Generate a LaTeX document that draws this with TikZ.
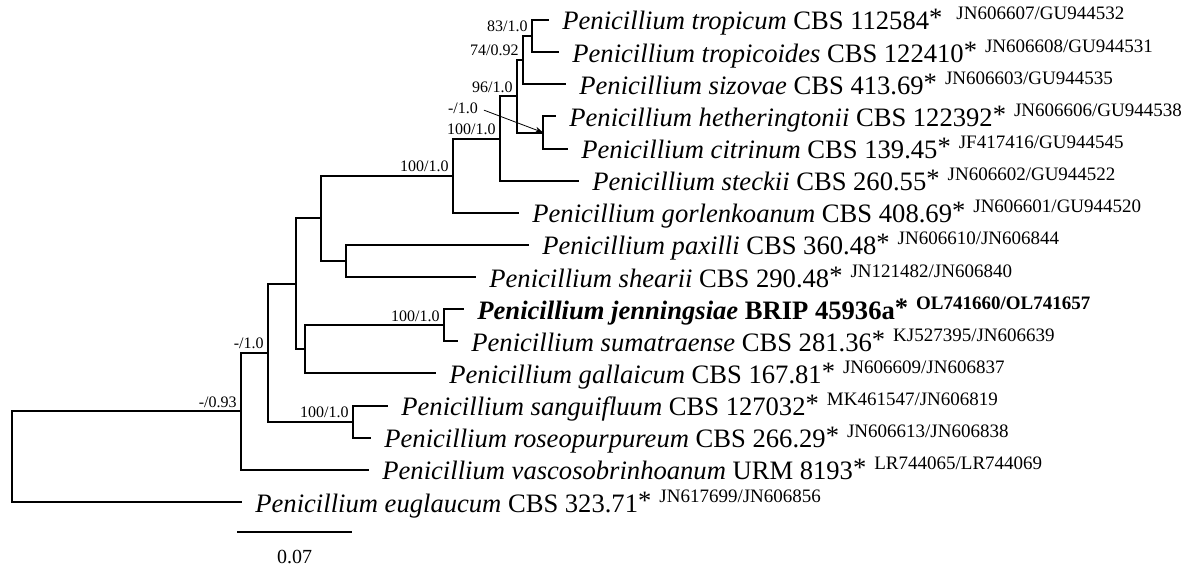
\documentclass[tikz,border=0pt]{standalone}
\usepackage{fontspec}
\setmainfont{Liberation Serif}
\usetikzlibrary{positioning, arrows.meta}
\newcommand{\tstar}{\raisebox{1.5pt}{*}}
\newcommand{\accno}[1]{\hspace{4pt}\raisebox{5pt}{\fontsize{9.5}{11}\selectfont #1}}

\begin{document}
\begin{tikzpicture}[
    x=0.5pt, y=-0.5pt,
    branch/.style={line width=1pt, line cap=rect},
    leaf/.style={anchor=base west, inner sep=0pt, xshift=7pt, yshift=-5pt, font=\fontsize{13.3}{16}\selectfont},
    supp/.style={anchor=base east, inner sep=0pt, xshift=-2pt, yshift=2pt, font=\fontsize{8}{9}\selectfont}]
    \useasboundingbox (0,0) rectangle (1203,567);
    % leaf tips
    \coordinate (t1)  at (548,20);
    \coordinate (t2)  at (558,52.1);
    \coordinate (t3)  at (565,84.3);
    \coordinate (t4)  at (555,116.4);
    \coordinate (t5)  at (567,148.5);
    \coordinate (t6)  at (578,180.7);
    \coordinate (t7)  at (518,212.8);
    \coordinate (t8)  at (528,244.9);
    \coordinate (t9)  at (475,277);
    \coordinate (t10) at (463,309.2);
    \coordinate (t11) at (457,341.3);
    \coordinate (t12) at (435,373.4);
    \coordinate (t13) at (387,405.6);
    \coordinate (t14) at (370,437.7);
    \coordinate (t15) at (368,469.8);
    \coordinate (t16) at (241,502);
    % internal nodes
    \coordinate (n83)  at (532,36);
    \coordinate (n74)  at (523,60);
    \coordinate (nM)   at (543,132.5);
    \coordinate (n96)  at (517,96);
    \coordinate (nU)   at (500,138.5);
    \coordinate (nL)   at (453,175.5);
    \coordinate (nPS)  at (346,261);
    \coordinate (nX)   at (321,218);
    \coordinate (nJ)   at (444,325.2);
    \coordinate (nG)   at (305,349.3);
    \coordinate (nA)   at (296,283.6);
    \coordinate (nS)   at (353,421.6);
    \coordinate (nB)   at (268,352.6);
    \coordinate (nC)   at (241,411.2);
    \coordinate (root) at (12,456.6);
    % branches
    \draw[branch] (n83) |- (t1);  \draw[branch] (n83) |- (t2);
    \draw[branch] (n74) |- (n83); \draw[branch] (n74) |- (t3);
    \draw[branch] (nM) |- (t4);   \draw[branch] (nM) |- (t5);
    \draw[branch] (n96) |- (n74); \draw[branch] (n96) |- (nM);
    \draw[branch] (nU) |- (n96);  \draw[branch] (nU) |- (t6);
    \draw[branch] (nL) |- (nU);   \draw[branch] (nL) |- (t7);
    \draw[branch] (nPS) |- (t8);  \draw[branch] (nPS) |- (t9);
    \draw[branch] (nX) |- (nL);   \draw[branch] (nX) |- (nPS);
    \draw[branch] (nJ) |- (t10);  \draw[branch] (nJ) |- (t11);
    \draw[branch] (nG) |- (nJ);   \draw[branch] (nG) |- (t12);
    \draw[branch] (nA) |- (nX);   \draw[branch] (nA) |- (nG);
    \draw[branch] (nS) |- (t13);  \draw[branch] (nS) |- (t14);
    \draw[branch] (nB) |- (nA);   \draw[branch] (nB) |- (nS);
    \draw[branch] (nC) |- (nB);   \draw[branch] (nC) |- (t15);
    \draw[branch] (root) |- (nC); \draw[branch] (root) |- (t16);
    % taxa
    \node[leaf] (l1)  at (t1)  {\textit{Penicillium tropicum} CBS 112584\tstar\accno{\hspace{3pt}JN606607/GU944532}};
    \node[leaf] (l2)  at (t2)  {\textit{Penicillium tropicoides} CBS 122410\tstar\accno{JN606608/GU944531}};
    \node[leaf] (l3)  at (t3)  {\textit{Penicillium sizovae} CBS 413.69\tstar\accno{JN606603/GU944535}};
    \node[leaf] (l4)  at (t4)  {\textit{Penicillium hetheringtonii} CBS 122392\tstar\accno{JN606606/GU944538}};
    \node[leaf] (l5)  at (t5)  {\textit{Penicillium citrinum} CBS 139.45\tstar\accno{JF417416/GU944545}};
    \node[leaf] (l6)  at (t6)  {\textit{Penicillium steckii} CBS 260.55\tstar\accno{JN606602/GU944522}};
    \node[leaf] (l7)  at (t7)  {\textit{Penicillium gorlenkoanum} CBS 408.69\tstar\accno{JN606601/GU944520}};
    \node[leaf] (l8)  at (t8)  {\textit{Penicillium paxilli} CBS 360.48\tstar\accno{JN606610/JN606844}};
    \node[leaf] (l9)  at (t9)  {\textit{Penicillium shearii} CBS 290.48\tstar\accno{JN121482/JN606840}};
    \node[leaf] (l10) at (t10) {\bfseries\textit{Penicillium jenningsiae} BRIP 45936a\tstar\accno{\bfseries OL741660/OL741657}};
    \node[leaf] (l11) at (t11) {\textit{Penicillium sumatraense} CBS 281.36\tstar\accno{KJ527395/JN606639}};
    \node[leaf] (l12) at (t12) {\textit{Penicillium gallaicum} CBS 167.81\tstar\accno{JN606609/JN606837}};
    \node[leaf] (l13) at (t13) {\textit{Penicillium sanguifluum} CBS 127032\tstar\accno{MK461547/JN606819}};
    \node[leaf] (l14) at (t14) {\textit{Penicillium roseopurpureum} CBS 266.29\tstar\accno{JN606613/JN606838}};
    \node[leaf] (l15) at (t15) {\textit{Penicillium vascosobrinhoanum} URM 8193\tstar\accno{LR744065/LR744069}};
    \node[leaf] (l16) at (t16) {\textit{Penicillium euglaucum} CBS 323.71\tstar\accno{JN617699/JN606856}};
    % support values
    \node[supp] (s83) at (n83) {83/1.0};
    \node[supp] (s74) at (n74) {74/0.92};
    \node[supp] (s96) at (n96) {96/1.0};
    \node[supp] (sU)  at (nU)  {100/1.0};
    \node[supp] (sL)  at (nL)  {100/1.0};
    \node[supp] (sJ)  at (nJ)  {100/1.0};
    \node[supp] (sS)  at (nS)  {100/1.0};
    \node[supp] (sB)  at (nB)  {-/1.0};
    \node[supp] (sC)  at (nC)  {-/0.93};
    \node[font=\fontsize{8}{9}\selectfont, inner sep=0pt] (sM) at (463,108) {-/1.0};
    \draw[-{Stealth[length=4pt, width=3pt]}, line width=0.4pt, shorten <=3pt] (sM.east) -- (nM);
    % scale bar
    \coordinate (sbL) at (238,532);
    \coordinate (sbR) at (351,532);
    \draw[branch] (sbL) -- (sbR);
    \node[anchor=base, inner sep=0pt, font=\fontsize{10}{12}\selectfont] (sb) at (294.5,563) {0.07};
\end{tikzpicture}
\end{document}
